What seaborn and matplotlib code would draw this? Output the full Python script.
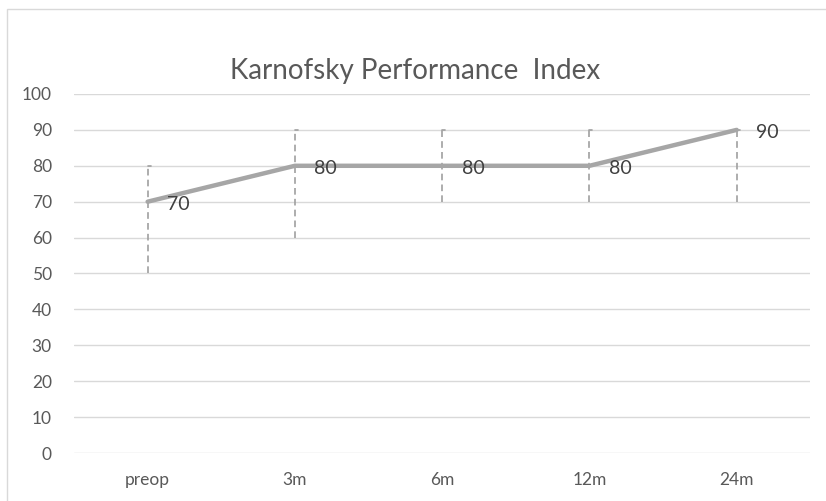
import matplotlib
matplotlib.use("Agg")
import matplotlib.pyplot as plt
import seaborn as sns
from matplotlib.patches import Rectangle

# data
timepoints = ["preop", "3m", "6m", "12m", "24m"]
kpi_median = [70, 80, 80, 80, 90]
kpi_low = [50, 60, 70, 70, 70]
kpi_high = [80, 90, 90, 90, 90]

sns.set_style("white")
plt.rcParams['font.family'] = ['Lato', 'DejaVu Sans']

fig = plt.figure(figsize=(8.26, 5.01), dpi=100)
ax = fig.add_axes([0.0896, 0.0958, 0.8914, 0.7166])

# outer chart frame like excel
fig.patches.append(Rectangle((0.008, -0.1), 1.2, 1.083, transform=fig.transFigure,
                             fill=False, edgecolor="#d9d9d9", linewidth=1.0))

xs = list(range(len(timepoints)))

# dashed range bars
ax.vlines(xs, kpi_low, kpi_high, colors="#a0a0a0", linestyles=(0, (4, 2.5)), linewidth=1.2, zorder=2)
for x, hi in zip(xs, kpi_high):
    ax.plot([x, x + 0.02], [hi, hi], color="#a0a0a0", linewidth=1.2, zorder=2)

sns.lineplot(x=xs, y=kpi_median, ax=ax, color="#a6a6a6", linewidth=3.2, zorder=3)

for x, v in zip(xs, kpi_median):
    ax.annotate(str(v), (x, v), xytext=(14, -2), textcoords="offset points",
                ha="left", va="center", fontsize=14, color="#404040")

ax.set_xlim(-0.5, len(timepoints) - 0.5)
ax.set_ylim(0, 100)
ax.set_yticks(range(0, 101, 10))
ax.set_xticks(xs)
ax.set_xticklabels(timepoints)
ax.yaxis.grid(True, color="#d9d9d9", linewidth=1.0)
ax.set_axisbelow(True)
for s in ax.spines.values():
    s.set_visible(False)
ax.tick_params(axis="both", length=0, labelsize=12.5, labelcolor="#595959")
ax.tick_params(axis="y", pad=16)
ax.tick_params(axis="x", pad=14)

fig.text(0.502, 0.858, "Karnofsky Performance  Index", ha="center", va="center",
         fontsize=20, color="#595959")

fig.savefig("out.png", dpi=100)
